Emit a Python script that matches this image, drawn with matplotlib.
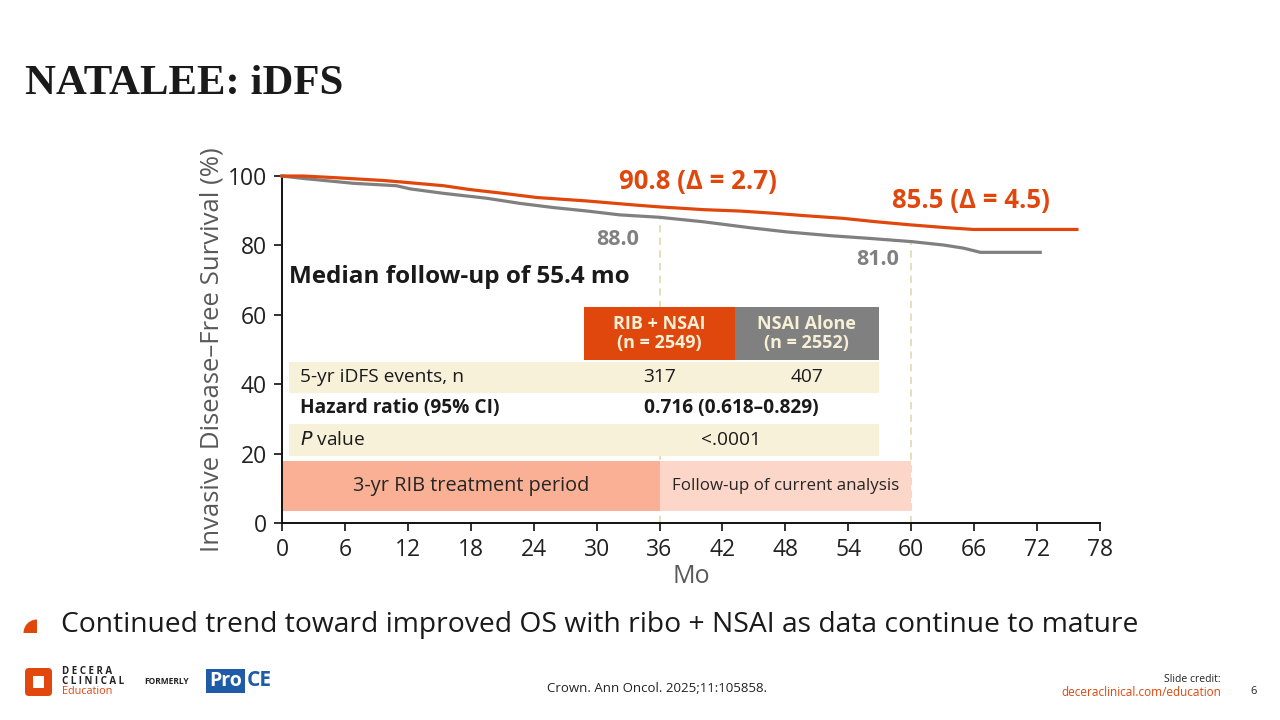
import matplotlib
matplotlib.use("Agg")
import matplotlib.pyplot as plt
from matplotlib.patches import Rectangle, FancyBboxPatch, Circle, Wedge

plt.rcParams['font.family'] = ['Open Sans', 'DejaVu Sans']

# KM curves (months, % iDFS)
rib_t = [0, 2.0, 5.2, 9.7, 11.3, 15.4, 17.9, 21.1, 24.3, 29.1, 33.8, 36.0,
         40.2, 43.7, 47.2, 49.7, 53.5, 56.7, 60.0, 63.4, 65.9, 75.8]
rib_s = [100, 100, 99.5, 98.7, 98.3, 97.2, 96.1, 95.0, 93.8, 92.8, 91.6, 91.1,
         90.3, 89.9, 89.2, 88.6, 87.8, 86.8, 85.9, 85.1, 84.6, 84.6]
nsai_t = [0, 2.0, 6.8, 10.9, 12.2, 15.4, 19.5, 22.7, 25.9, 29.1, 32.2, 36.0,
          40.2, 44.6, 48.1, 52.3, 56.1, 60.0, 63.1, 65.0, 66.6, 72.3]
nsai_s = [100, 99.3, 97.9, 97.2, 96.3, 95.0, 93.6, 92.1, 90.9, 89.9, 88.8, 88.1,
          86.8, 85.1, 83.9, 82.8, 82.0, 81.1, 80.1, 79.2, 78.0, 78.0]

landmark_mo = [36, 60]
landmark_nsai = [88.0, 81.0]
landmark_labels = ["90.8 (\u0394 = 2.7)", "85.5 (\u0394 = 4.5)"]

x_ticks = list(range(0, 79, 6))
y_ticks = [0, 20, 40, 60, 80, 100]

arm_names = ["RIB + NSAI\n(n = 2549)", "NSAI Alone\n(n = 2552)"]
events = ["317", "407"]
hazard_ratio = "0.716 (0.618\u20130.829)"
p_value = "<.0001"

ORANGE = '#e0470d'
GRAY = '#808080'
CREAM = '#f7f1da'
DARK = '#1a1a1a'

fig = plt.figure(figsize=(12.8, 7.2), dpi=100)
ax = fig.add_axes([282 / 1280, 1 - 523 / 720, 818 / 1280, 347 / 720])

# slide overlay in pixel coordinates (title, bullet, footer)
ov = fig.add_axes([0, 0, 1, 1], zorder=-1)
ov.set_xlim(0, 1280)
ov.set_ylim(720, 0)
ov.axis('off')

# dashed landmark lines
for m, v in zip(landmark_mo, landmark_nsai):
    ax.plot([m, m], [0, v], color='#e5dbb5', lw=1.3, ls=(0, (4, 3)), zorder=1)

# curves
ax.plot(nsai_t, nsai_s, color=GRAY, lw=2.3, zorder=4, solid_joinstyle='miter', clip_on=False)
ax.plot(rib_t, rib_s, color=ORANGE, lw=2.3, zorder=5, solid_joinstyle='miter', clip_on=False)

ax.set_xlim(0, 78)
ax.set_ylim(0, 100)
ax.set_xticks(x_ticks)
ax.set_yticks(y_ticks)
ax.tick_params(direction='out', length=6, width=1.3, labelsize=16.5, colors='#222222', pad=5)
for s in ['top', 'right']:
    ax.spines[s].set_visible(False)
for s in ['left', 'bottom']:
    ax.spines[s].set_linewidth(1.4)
    ax.spines[s].set_color('#111111')

ax.set_xlabel("Mo", fontsize=18, color='#595959', labelpad=1)
ax.set_ylabel("Invasive Disease\u2013Free Survival (%)", fontsize=18.5, color='#595959', labelpad=2)

# landmark labels
ax.text(39.7, 98.5, landmark_labels[0], color=ORANGE, fontsize=18.5, fontweight='bold',
        ha='center', va='center')
ax.text(65.7, 93.0, landmark_labels[1], color=ORANGE, fontsize=18.5, fontweight='bold',
        ha='center', va='center')
ax.text(32.0, 81.6, f"{landmark_nsai[0]:.1f}", color=GRAY, fontsize=15.5, fontweight='bold',
        ha='center', va='center')
ax.text(56.8, 75.8, f"{landmark_nsai[1]:.1f}", color=GRAY, fontsize=15.5, fontweight='bold',
        ha='center', va='center')

ax.text(0.7, 71.0, "Median follow-up of 55.4 mo", color=DARK, fontsize=17.5, fontweight='bold',
        ha='left', va='center')

# table: header cells
hdr_x = [28.8, 43.2]
hdr_w = [14.4, 13.7]
hdr_col = [ORANGE, GRAY]
for x0, w, c, name in zip(hdr_x, hdr_w, hdr_col, arm_names):
    ax.add_patch(Rectangle((x0, 47.0), w, 15.2, color=c, zorder=6, lw=0))
    ax.text(x0 + w / 2, 54.6, name, color='#f7efd6', fontsize=13, fontweight='bold',
            ha='center', va='center', zorder=7, linespacing=1.1)

rows_y = [(37.5, 46.4, CREAM), (28.5, 37.5, 'white'), (19.3, 28.5, CREAM)]
for y0, y1, c in rows_y:
    ax.add_patch(Rectangle((0.7, y0), 56.2, y1 - y0, color=c, zorder=6, lw=0))

col1 = hdr_x[0] + hdr_w[0] / 2
col2 = hdr_x[1] + hdr_w[1] / 2
mid = (hdr_x[0] + hdr_x[1] + hdr_w[1]) / 2
fs_tab = 13.8
ax.text(1.7, 42.0, "5-yr iDFS events, n", fontsize=fs_tab, color=DARK, va='center', zorder=7)
ax.text(col1, 42.0, events[0], fontsize=fs_tab, color=DARK, ha='center', va='center', zorder=7)
ax.text(col2, 42.0, events[1], fontsize=fs_tab, color=DARK, ha='center', va='center', zorder=7)
ax.text(1.7, 33.0, "Hazard ratio (95% CI)", fontsize=fs_tab, color=DARK, fontweight='bold',
        va='center', zorder=7)
ax.text(mid, 33.0, hazard_ratio, fontsize=fs_tab, color=DARK, fontweight='bold',
        ha='center', va='center', zorder=7)
ax.text(1.7, 23.9, "$\\mathit{P}$ value", fontsize=fs_tab, color=DARK, va='center', zorder=7)
ax.text(mid, 23.9, p_value, fontsize=fs_tab, color=DARK, ha='center', va='center', zorder=7)

# treatment / follow-up bands
ax.add_patch(Rectangle((0, 3.5), 36, 14.4, color='#f9b094', zorder=2, lw=0))
ax.add_patch(Rectangle((36, 3.5), 24, 14.4, color='#fcd6c8', zorder=2, lw=0))
ax.text(18, 10.7, "3-yr RIB treatment period", fontsize=14.3, color='#262626',
        ha='center', va='center', zorder=3)
ax.text(48.0, 10.7, "Follow-up of current analysis", fontsize=12.2, color='#262626',
        ha='center', va='center', zorder=3)

# title
ov.text(25, 84, "NATALEE: iDFS", family='Liberation Serif', fontweight='bold',
        fontsize=30.8, color='#1a1a1a', va='center', ha='left')

# bullet
ov.add_patch(Wedge((37, 633), 13.5, 180, 270, color=ORANGE, lw=0))
ov.text(61, 625, "Continued trend toward improved OS with ribo + NSAI as data continue to mature",
        fontsize=20.3, color='#1a1a1a', va='center', ha='left')

# footer logo (approximation)
ov.add_patch(FancyBboxPatch((25, 668), 27, 28, boxstyle='round,pad=0,rounding_size=4',
                            color='#e2470e', lw=0))
ov.add_patch(Rectangle((33, 676), 11, 12, color='white', lw=0))
ov.text(62, 672, "D E C E R A", fontsize=7, fontweight='bold', color='#222222', va='center')
ov.text(62, 682, "C L I N I C A L", fontsize=7, fontweight='bold', color='#222222', va='center')
ov.text(62, 692, "Education", fontsize=7.8, color=ORANGE, va='center')
ov.text(144, 682, "FORMERLY", fontsize=6, fontweight='bold', color='#222222', va='center')
ov.add_patch(Rectangle((206, 669), 39, 24, color='#1f5ca8', lw=0))
ov.text(225.5, 681, "Pro", fontsize=14, fontweight='bold', color='white',
        va='center', ha='center')
ov.text(247, 681, "CE", fontsize=15, fontweight='bold', color='#1f5ca8',
        va='center', ha='left')

ov.text(547, 688, "Crown. Ann Oncol. 2025;11:105858.", fontsize=9.5, color='#222222',
        va='center', ha='left')
ov.text(1221, 679, "Slide credit:", fontsize=7.5, color='#222222', va='center', ha='right')
ov.text(1221, 692, "deceraclinical.com/education", fontsize=8.5, color=ORANGE,
        va='center', ha='right')
ov.text(1254, 692, "6", fontsize=8, color='#222222', va='center', ha='center')

fig.savefig("out.png", dpi=100)
